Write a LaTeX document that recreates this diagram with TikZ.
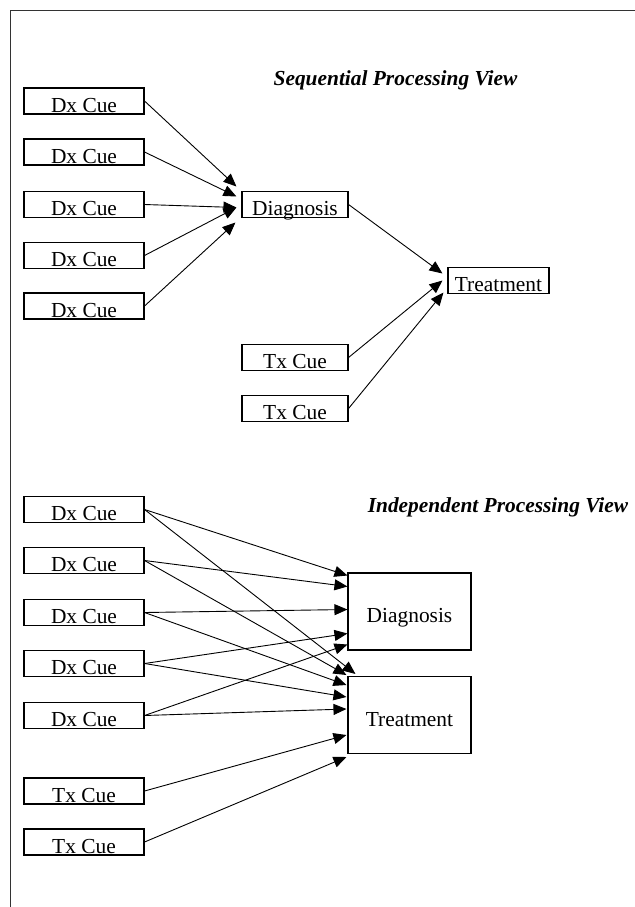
\documentclass[tikz,border=0pt]{standalone}
\usepackage{fontspec}
\setmainfont{Liberation Serif}
\usetikzlibrary{arrows.meta,calc}
\begin{document}
\begin{tikzpicture}[>={Triangle[length=6.5pt,width=5.5pt]},x=0.5pt,y=-0.5pt,
	font=\fontsize{10.7}{12}\selectfont,
	cue/.style={draw,line width=0.55pt,inner sep=0pt,minimum width=60pt,text height=12pt,text depth=1pt},
	bigbox/.style={draw,line width=0.55pt,inner sep=0pt,minimum width=61.5pt,minimum height=38.5pt,text height=12pt,text depth=1pt},
	viewtitle/.style={anchor=base,font=\fontsize{10.7}{12}\selectfont\bfseries\itshape},
	arr/.style={->,line width=0.45pt}]
	\useasboundingbox (0,0) rectangle (635,907);
	\draw[line width=0.75pt,black!80] (635,10.5) -- (10.5,10.5) -- (10.5,907);
	
	\node[viewtitle] (stitle) at (395.5,85) {Sequential Processing View};
	\node[cue] (sdx1) at (84,101) {Dx Cue};
	\node[cue] (sdx2) at (84,152) {Dx Cue};
	\node[cue] (sdx3) at (84,204.5) {Dx Cue};
	\node[cue] (sdx4) at (84,255.5) {Dx Cue};
	\node[cue] (sdx5) at (84,306) {Dx Cue};
	\node[cue,minimum width=53pt] (sdiag) at (295,204.5) {Diagnosis};
	\node[cue,minimum width=50.5pt] (streat) at (498.5,280.5) {Treatment};
	\node[cue,minimum width=53pt] (stx1) at (295,357.5) {Tx Cue};
	\node[cue,minimum width=53pt] (stx2) at (295,408.5) {Tx Cue};
	\draw[arr] (sdx1.east) -- ($(sdiag.west)+(-5,-18)$);
	\draw[arr] (sdx2.east) -- ($(sdiag.west)+(-5,-8)$);
	\draw[arr] (sdx3.east) -- ($(sdiag.west)+(-5,3)$);
	\draw[arr] (sdx4.east) -- ($(sdiag.west)+(-5,3)$);
	\draw[arr] (sdx5.east) -- ($(sdiag.west)+(-6,18)$);
	\draw[arr] (sdiag.east) -- ($(streat.west)+(-5,-7)$);
	\draw[arr] (stx1.east) -- ($(streat.west)+(-5,0)$);
	\draw[arr] (stx2.east) -- ($(streat.west)+(-4,12)$);
	
	\node[viewtitle] (ititle) at (498,512) {Independent Processing View};
	\node[cue] (idx1) at (84,509.5) {Dx Cue};
	\node[cue] (idx2) at (84,560.5) {Dx Cue};
	\node[cue] (idx3) at (84,612.5) {Dx Cue};
	\node[cue] (idx4) at (84,663.5) {Dx Cue};
	\node[cue] (idx5) at (84,715.5) {Dx Cue};
	\node[cue] (itx1) at (84,791) {Tx Cue};
	\node[cue] (itx2) at (84,842) {Tx Cue};
	\node[bigbox] (idiag) at (409.5,611.5) {Diagnosis};
	\node[bigbox] (itreat) at (409.5,715) {Treatment};
	\draw[arr] (idx1.east) -- ($(idiag.west)+(0,-36)$);
	\draw[arr] (idx2.east) -- ($(idiag.west)+(0,-25)$);
	\draw[arr] (idx3.east) -- ($(idiag.west)+(0,-2)$);
	\draw[arr] (idx4.east) -- ($(idiag.west)+(0,22)$);
	\draw[arr] (idx5.east) -- ($(idiag.west)+(0,33)$);
	\draw[arr] (idx1.east) -- ($(itreat.north west)+(8,-2)$);
	\draw[arr] (idx2.east) -- ($(itreat.west)+(-1,-40)$);
	\draw[arr] (idx3.east) -- ($(itreat.west)+(-1,-30)$);
	\draw[arr] (idx4.east) -- ($(itreat.west)+(-1,-18)$);
	\draw[arr] (idx5.east) -- ($(itreat.west)+(-1,-6)$);
	\draw[arr] (itx1.east) -- ($(itreat.west)+(-1,20)$);
	\draw[arr] (itx2.east) -- ($(itreat.west)+(-1,42)$);
\end{tikzpicture}
\end{document}
